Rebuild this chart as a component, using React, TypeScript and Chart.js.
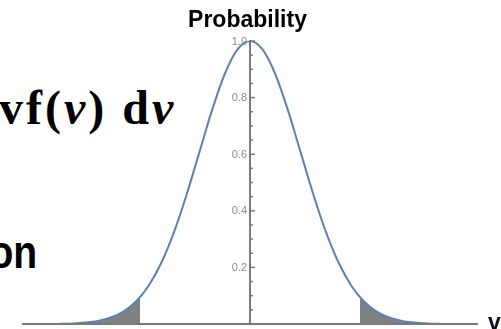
import React, { useEffect, useRef } from "react";
import { Chart, registerables } from "chart.js";

Chart.register(...registerables);

// Normal-shaped probability curve
const curveX = [-3.75, -3.5, -3.25, -3, -2.75, -2.5, -2.25, -2, -1.75, -1.5, -1.25, -1, -0.75, -0.5, -0.25, 0, 0.25, 0.5, 0.75, 1, 1.25, 1.5, 1.75, 2, 2.25, 2.5, 2.75, 3, 3.25, 3.5, 3.75];
const curveY = [0.0009, 0.0022, 0.0051, 0.0111, 0.0228, 0.0439, 0.0796, 0.1353, 0.2163, 0.3247, 0.4578, 0.6065, 0.7548, 0.8825, 0.9692, 1.0, 0.9692, 0.8825, 0.7548, 0.6065, 0.4578, 0.3247, 0.2163, 0.1353, 0.0796, 0.0439, 0.0228, 0.0111, 0.0051, 0.0022, 0.0009];

// Shaded tails
const leftTailX = [-3.75, -3.5, -3.25, -3, -2.75, -2.5, -2.25, -2.17];
const leftTailY = [0.0009, 0.0022, 0.0051, 0.0111, 0.0228, 0.0439, 0.0796, 0.095];
const rightTailX = [2.17, 2.25, 2.5, 2.75, 3, 3.25, 3.5, 3.75];
const rightTailY = [0.095, 0.0796, 0.0439, 0.0228, 0.0111, 0.0051, 0.0022, 0.0009];

// Vertical axis ticks
const yMajorTicks = [0.2, 0.4, 0.6, 0.8, 1.0];
const yTickLabels = ["0.2", "0.4", "0.6", "0.8", "1.0"];
const yMinorTicks = [0.05, 0.1, 0.15, 0.25, 0.3, 0.35, 0.45, 0.5, 0.55, 0.65, 0.7, 0.75, 0.85, 0.9, 0.95];

const titleText = "Probability";
const xAxisLabel = "v";

const toPoints = (xs: number[], ys: number[]) => xs.map((x, i) => ({ x, y: ys[i] }));

const axesPlugin = {
  id: "centerAxes",
  afterDatasetsDraw(chart: any) {
    const { ctx, scales } = chart;
    const xs = scales.x;
    const ys = scales.y;
    const x0 = xs.getPixelForValue(0);
    const y0 = ys.getPixelForValue(0);
    ctx.save();
    ctx.strokeStyle = "#7a7a7a";
    ctx.lineWidth = 2;
    ctx.beginPath();
    ctx.moveTo(xs.getPixelForValue(xs.min), y0);
    ctx.lineTo(xs.getPixelForValue(xs.max), y0);
    ctx.stroke();
    ctx.beginPath();
    ctx.moveTo(x0, y0);
    ctx.lineTo(x0, ys.getPixelForValue(1.0) - 1);
    ctx.stroke();

    ctx.lineWidth = 1.5;
    yMajorTicks.forEach((v) => {
      const py = ys.getPixelForValue(v);
      ctx.beginPath();
      ctx.moveTo(x0, py);
      ctx.lineTo(x0 + 5, py);
      ctx.stroke();
    });
    yMinorTicks.forEach((v) => {
      const py = ys.getPixelForValue(v);
      ctx.beginPath();
      ctx.moveTo(x0, py);
      ctx.lineTo(x0 + 3, py);
      ctx.stroke();
    });

    ctx.fillStyle = "#8c8c8c";
    ctx.font = "11px 'Liberation Sans', Arial, sans-serif";
    ctx.textAlign = "right";
    ctx.textBaseline = "middle";
    yMajorTicks.forEach((v, i) => {
      ctx.fillText(yTickLabels[i], x0 - 3, ys.getPixelForValue(v) + 0.5);
    });

    ctx.fillStyle = "#000";
    ctx.font = "bold 23px 'Liberation Sans', Arial, sans-serif";
    ctx.textAlign = "center";
    ctx.textBaseline = "alphabetic";
    ctx.fillText(titleText, 247.5, 27);

    ctx.fillStyle = "#111122";
    ctx.textAlign = "left";
    ctx.fillText(xAxisLabel, 488, 330);
    ctx.restore();
  },
};

export default function App() {
  const canvasRef = useRef<HTMLCanvasElement | null>(null);

  useEffect(() => {
    if (!canvasRef.current) return;
    const chart = new Chart(canvasRef.current, {
      type: "line",
      data: {
        datasets: [
          {
            data: toPoints(curveX, curveY),
            borderColor: "#5e81b5",
            borderWidth: 2,
            pointRadius: 0,
            fill: false,
            cubicInterpolationMode: "monotone",
            order: 0,
          },
          {
            data: toPoints(leftTailX, leftTailY),
            borderWidth: 0,
            borderColor: "rgba(0,0,0,0)",
            backgroundColor: "#808080",
            pointRadius: 0,
            fill: "origin",
            cubicInterpolationMode: "monotone",
            order: 1,
          },
          {
            data: toPoints(rightTailX, rightTailY),
            borderWidth: 0,
            borderColor: "rgba(0,0,0,0)",
            backgroundColor: "#808080",
            pointRadius: 0,
            fill: "origin",
            cubicInterpolationMode: "monotone",
            order: 1,
          },
        ],
      },
      options: {
        animation: false,
        responsive: false,
        devicePixelRatio: 1,
        layout: { padding: { left: 22, right: 23, top: 41, bottom: 5 } },
        plugins: { legend: { display: false }, tooltip: { enabled: false }, title: { display: false } },
        scales: {
          x: { type: "linear", min: -4.5, max: 4.5, display: false },
          y: { type: "linear", min: 0, max: 1, display: false },
        },
      },
      plugins: [axesPlugin],
    });
    return () => chart.destroy();
  }, []);

  return (
    <div style={{ position: "fixed", left: 0, top: 0, width: 501, height: 329, overflow: "hidden", background: "#fff" }}>
      <div
        style={{
          position: "absolute",
          left: -1,
          top: 84,
          fontFamily: "'Liberation Serif', 'Times New Roman', serif",
          fontWeight: "bold",
          fontSize: 48,
          letterSpacing: 3,
          color: "#000",
          whiteSpace: "nowrap",
          lineHeight: 1,
        }}
      >
        vf(<i>v</i>) d<i>v</i>
      </div>
      <div
        style={{
          position: "absolute",
          right: 464,
          top: 229,
          fontFamily: "'Liberation Sans', Arial, sans-serif",
          fontWeight: "bold",
          fontSize: 46,
          color: "#000",
          whiteSpace: "nowrap",
          lineHeight: 1,
          transform: "scaleX(0.85)",
          transformOrigin: "right center",
        }}
      >
        on
      </div>
      <canvas ref={canvasRef} width={501} height={329} style={{ position: "absolute", left: 0, top: 0 }} />
    </div>
  );
}
